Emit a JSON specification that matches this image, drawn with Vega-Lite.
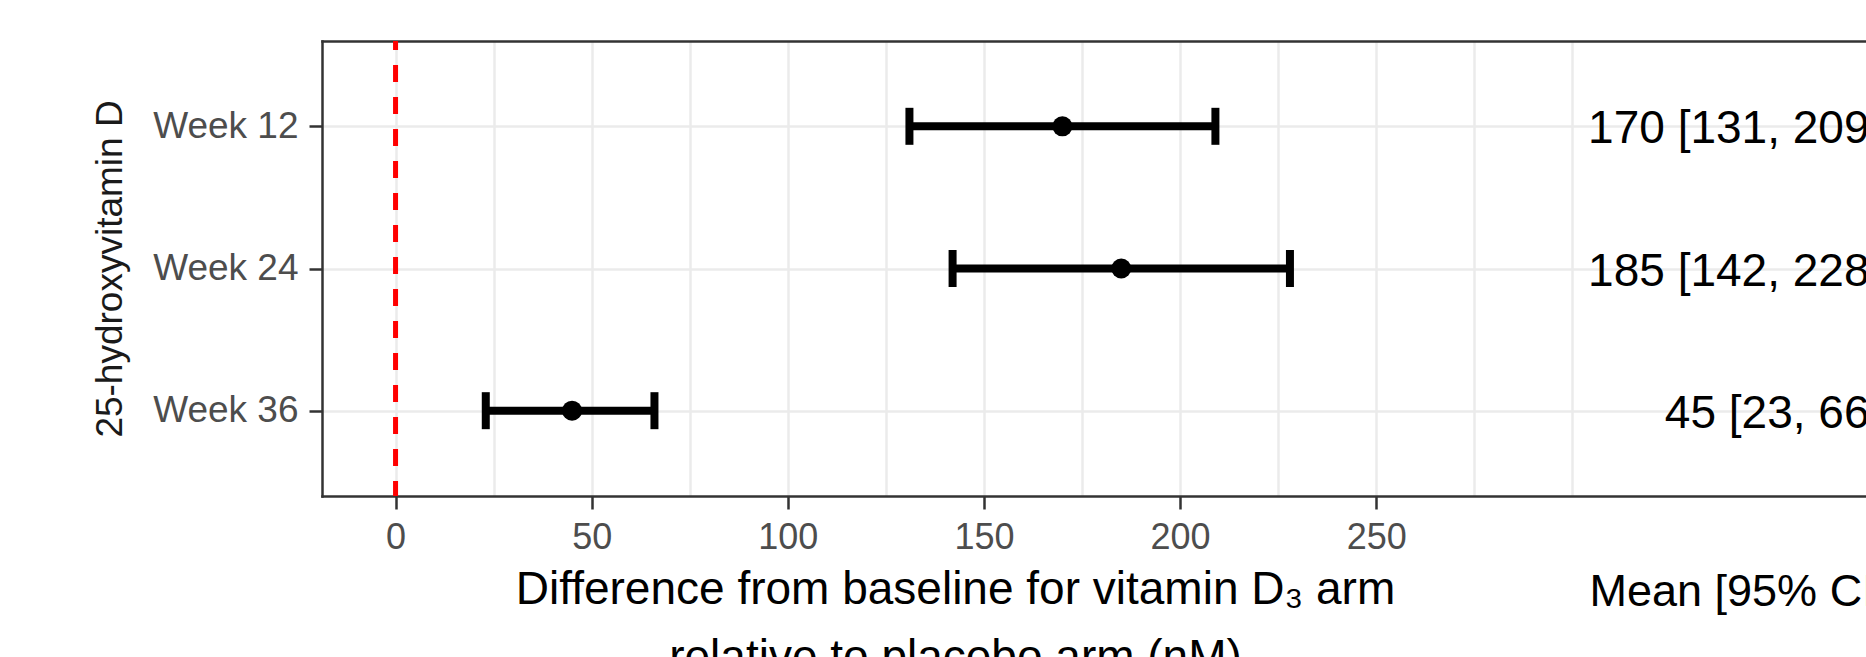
{
  "$schema": "https://vega.github.io/schema/vega-lite/v6.json",
  "width": 1544,
  "height": 455,
  "autosize": {"type": "none"},
  "padding": {"left": 322, "top": 41, "right": 0, "bottom": 161},
  "background": "white",
  "config": {
    "font": "Liberation Sans",
    "view": {"stroke": null},
    "axis": {"labelFont": "Liberation Sans", "titleFont": "Liberation Sans", "domainCap": "square"}
  },
  "data": {"values": [
    {"week": "Week 12", "mean": 170, "low": 131, "high": 209, "label": "170 [131, 209]"},
    {"week": "Week 24", "mean": 185, "low": 142, "high": 228, "label": "185 [142, 228]"},
    {"week": "Week 36", "mean": 45, "low": 23, "high": 66, "label": "45 [23, 66]"}
  ]},
  "layer": [
    {
      "mark": {"type": "circle", "size": 0, "opacity": 0},
      "encoding": {
        "x": {"field": "mean", "type": "quantitative",
          "scale": {"domain": [-18.75, 374.85], "nice": false, "zero": false},
          "axis": {"orient": "top", "values": [0,25,50,75,100,125,150,175,200,225,250,275,300],
            "grid": true, "gridColor": "#EBEBEB", "gridWidth": 2.5,
            "ticks": false, "labels": false,
            "domain": true, "domainColor": "#333333", "domainWidth": 2.5,
            "title": "Mean [95% CI]", "titleFontSize": 45, "titleFontWeight": "normal", "titleColor": "black",
            "titleX": 1267, "titleY": 564, "titleAlign": "left", "titleBaseline": "alphabetic"}},
        "y": {"field": "week", "type": "nominal", "sort": null,
          "scale": {"type": "point", "padding": 0.6},
          "axis": {"title": "25-hydroxyvitamin D", "titleFontSize": 37, "titleColor": "#1a1a1a", "titleFontWeight": "normal",
            "titleAngle": 270, "titleBaseline": "alphabetic", "titleAlign": "center", "titleX": -201, "titleY": 227.5,
            "labelFontSize": 37, "labelColor": "#4D4D4D", "labelPadding": 11,
            "tickSize": 13, "tickWidth": 2.5, "tickColor": "#333333",
            "domain": true, "domainColor": "#333333", "domainWidth": 2.5,
            "grid": true, "gridColor": "#EBEBEB", "gridWidth": 2.5}}
      }
    },
    {
      "data": {"values": [{}]},
      "mark": {"type": "rule", "color": "#FF0000", "strokeWidth": 5, "strokeDash": [17, 15], "strokeDashOffset": 8},
      "encoding": {
        "x": {"datum": 0, "type": "quantitative", "axis": null}
      }
    },
    {
      "mark": {"type": "rule", "color": "black", "strokeWidth": 8},
      "encoding": {
        "x": {"field": "low", "type": "quantitative",
          "axis": {"orient": "bottom", "values": [0, 50, 100, 150, 200, 250],
            "grid": false, "domain": true, "domainColor": "#333333", "domainWidth": 2.5,
            "tickSize": 13, "tickWidth": 2.5, "tickColor": "#333333",
            "labelFontSize": 36, "labelColor": "#4D4D4D", "labelPadding": 11, "labelFlush": false, "labelOverlap": false,
            "title": ["Difference from baseline for vitamin D\u2083 arm", "relative to placebo arm (nM)"],
            "titleFontSize": 46, "titleFontWeight": "normal", "titleColor": "black",
            "titleX": 633, "titleY": 107.5, "titleAlign": "center", "titleBaseline": "alphabetic", "titleLineHeight": 68}},
        "x2": {"field": "high"},
        "y": {"field": "week", "type": "nominal", "sort": null}
      }
    },
    {
      "mark": {"type": "tick", "orient": "vertical", "color": "black", "thickness": 8, "size": 37, "opacity": 1},
      "encoding": {
        "x": {"field": "low", "type": "quantitative", "axis": null},
        "y": {"field": "week", "type": "nominal", "sort": null}
      }
    },
    {
      "mark": {"type": "tick", "orient": "vertical", "color": "black", "thickness": 8, "size": 37, "opacity": 1},
      "encoding": {
        "x": {"field": "high", "type": "quantitative", "axis": null},
        "y": {"field": "week", "type": "nominal", "sort": null}
      }
    },
    {
      "mark": {"type": "circle", "color": "black", "size": 400, "opacity": 1},
      "encoding": {
        "x": {"field": "mean", "type": "quantitative", "axis": null},
        "y": {"field": "week", "type": "nominal", "sort": null}
      }
    },
    {
      "mark": {"type": "text", "align": "right", "baseline": "middle", "fontSize": 46, "dy": 3.1, "color": "black"},
      "encoding": {
        "x": {"datum": 379, "type": "quantitative", "axis": null},
        "y": {"field": "week", "type": "nominal", "sort": null},
        "text": {"field": "label"}
      }
    }
  ],
  "resolve": {"axis": {"x": "independent"}}
}
